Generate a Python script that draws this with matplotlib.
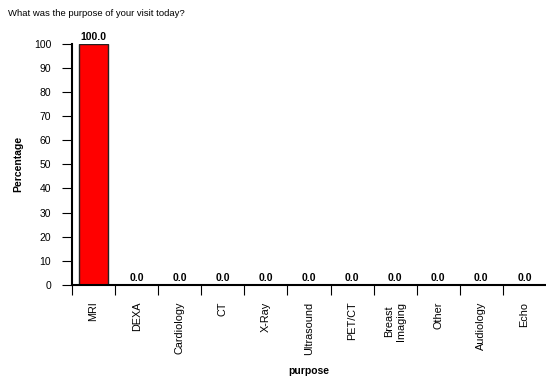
import numpy as np
import matplotlib
matplotlib.use('Agg')
import matplotlib.pyplot as plt
from matplotlib.ticker import FixedLocator

plt.rcParams['font.family'] = ['Liberation Sans', 'DejaVu Sans']

categories = ['MRI', 'DEXA', 'Cardiology', 'CT', 'X-Ray', 'Ultrasound',
              'PET/CT', 'Breast\nImaging', 'Other', 'Audiology', 'Echo']
percentages = [100.0, 0.0, 0.0, 0.0, 0.0, 0.0, 0.0, 0.0, 0.0, 0.0, 0.0]

fig = plt.figure(figsize=(5.46, 3.85), dpi=100)
ax = fig.add_axes([0.132, 0.260, 0.868, 0.626])

x = np.arange(len(categories))
ax.bar(x, percentages, width=0.68, color='#ff0000', edgecolor='#222222', linewidth=1.0)

for xi, v in zip(x, percentages):
    ax.text(xi, v + 0.8, f'{v:.1f}', ha='center', va='bottom', fontsize=7.5, fontweight='bold')

ax.set_xlim(-0.5, len(categories) - 0.5)
ax.set_ylim(0, 100)
ax.set_yticks(np.arange(0, 101, 10))
ax.tick_params(axis='y', labelsize=7.5, length=7, width=0.8, pad=8)

ax.set_xticks(x)
ax.set_xticklabels(categories, rotation=90, fontsize=7.8, va='top', ha='center')
ax.tick_params(axis='x', which='major', length=0, pad=12)
ax.xaxis.set_minor_locator(FixedLocator(np.arange(-0.5, len(categories) - 0.5, 1.0)))
ax.tick_params(axis='x', which='minor', length=7, width=0.8)

for s in ['top', 'right']:
    ax.spines[s].set_visible(False)
ax.spines['bottom'].set_linewidth(1.5)
ax.spines['left'].set_linewidth(1.5)

ax.set_ylabel('Percentage', fontsize=7.5, fontweight='bold', labelpad=8)
ax.set_xlabel('purpose', fontsize=7.5, fontweight='bold', labelpad=8)
fig.text(0.015, 0.965, 'What was the purpose of your visit today?', fontsize=6.8, va='center')

fig.savefig('out.png', dpi=100)
